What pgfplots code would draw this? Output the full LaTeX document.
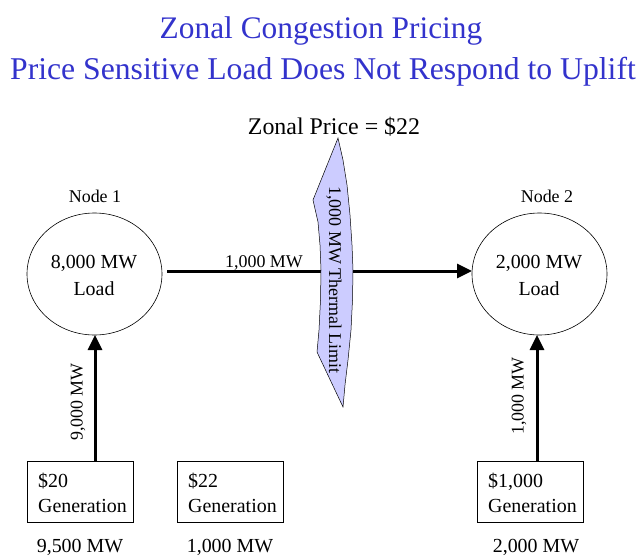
\documentclass[border=0pt]{standalone}
\usepackage{pgfplots}
\pgfplotsset{compat=1.18}
\usepackage{fontspec}
\setmainfont{Liberation Serif}
\usetikzlibrary{arrows.meta}
\definecolor{titleblue}{RGB}{51,51,204}
\definecolor{lav}{RGB}{204,204,255}
\newcommand{\fs}[1]{\fontsize{#1}{#1}\selectfont}
\begin{document}
\begin{tikzpicture}
\begin{axis}[scale only axis, width=641bp, height=559bp,
  xmin=0, xmax=641, ymin=0, ymax=559, y dir=reverse,
  axis lines=none, ticks=none, clip=false]
\path (axis cs:0,0) rectangle (axis cs:641,559);
% titles
\node[text=titleblue, font=\fs{31.5}, inner sep=0] at (axis cs:321,31) {Zonal Congestion Pricing};
\node[text=titleblue, font=\fs{31.8}, inner sep=0] at (axis cs:323,72) {Price Sensitive Load Does Not Respond to Uplift};
\node[font=\fs{24}, inner sep=0] at (axis cs:334,127) {Zonal Price = \$22};
% flow arrows
\addplot[line width=3bp, -{Triangle[length=15bp,width=14bp]}] coordinates {(167,271) (472,271)};
\addplot[line width=3bp, -{Triangle[length=15bp,width=14bp]}] coordinates {(95,461) (95,335)};
\addplot[line width=3bp, -{Triangle[length=15bp,width=14bp]}] coordinates {(537,461) (537,335)};
% thermal limit banner
\addplot[fill=lav, draw=black, line width=0.5bp] coordinates {
 (338,138) (343,160) (347,185) (350,215) (352,245) (353,270) (352.5,300) (351,330) (348,360) (345,385) (343,407)
 (317,352) (319,330) (320.5,300) (321,270) (320,245) (318,222) (313,200) (338,138)} -- cycle;
\node[font=\fs{18}, inner sep=0, rotate=-90] at (axis cs:334,280) {1,000 MW Thermal Limit};
\node[font=\fs{18}, inner sep=0, anchor=base] at (axis cs:264,267) {1,000 MW};
% nodes
\draw[line width=0.6bp] (axis cs:94.5,274) ellipse [x radius=67.5bp, y radius=61bp];
\draw[line width=0.6bp] (axis cs:539.5,274) ellipse [x radius=67.5bp, y radius=61bp];
\node[font=\fs{18}, inner sep=0] at (axis cs:95,196) {Node 1};
\node[font=\fs{18}, inner sep=0] at (axis cs:547,196) {Node 2};
\node[font=\fs{20}, inner sep=0] at (axis cs:94,263) {8,000 MW};
\node[font=\fs{20}, inner sep=0] at (axis cs:94,289) {Load};
\node[font=\fs{20}, inner sep=0] at (axis cs:539,263) {2,000 MW};
\node[font=\fs{20}, inner sep=0] at (axis cs:539,289) {Load};
\node[font=\fs{18}, inner sep=0, rotate=90] at (axis cs:78,402) {9,000 MW};
\node[font=\fs{18}, inner sep=0, rotate=90] at (axis cs:519,396) {1,000 MW};
% generator boxes
\addplot[draw=black, line width=0.6bp] coordinates {(27,461) (133,461) (133,522) (27,522) (27,461)} -- cycle;
\addplot[draw=black, line width=0.6bp] coordinates {(177,461) (283,461) (283,522) (177,522) (177,461)} -- cycle;
\addplot[draw=black, line width=0.6bp] coordinates {(477,461) (583,461) (583,522) (477,522) (477,461)} -- cycle;
\node[font=\fs{20}, inner sep=0, anchor=base west] at (axis cs:38,487) {\$20};
\node[font=\fs{20}, inner sep=0, anchor=base west] at (axis cs:38,512) {Generation};
\node[font=\fs{20}, inner sep=0, anchor=base west] at (axis cs:188,487) {\$22};
\node[font=\fs{20}, inner sep=0, anchor=base west] at (axis cs:188,512) {Generation};
\node[font=\fs{20}, inner sep=0, anchor=base west] at (axis cs:488,487) {\$1,000};
\node[font=\fs{20}, inner sep=0, anchor=base west] at (axis cs:488,512) {Generation};
\node[font=\fs{20}, inner sep=0] at (axis cs:80,547) {9,500 MW};
\node[font=\fs{20}, inner sep=0] at (axis cs:230,547) {1,000 MW};
\node[font=\fs{20}, inner sep=0] at (axis cs:536,547) {2,000 MW};
\end{axis}
\end{tikzpicture}
\end{document}
